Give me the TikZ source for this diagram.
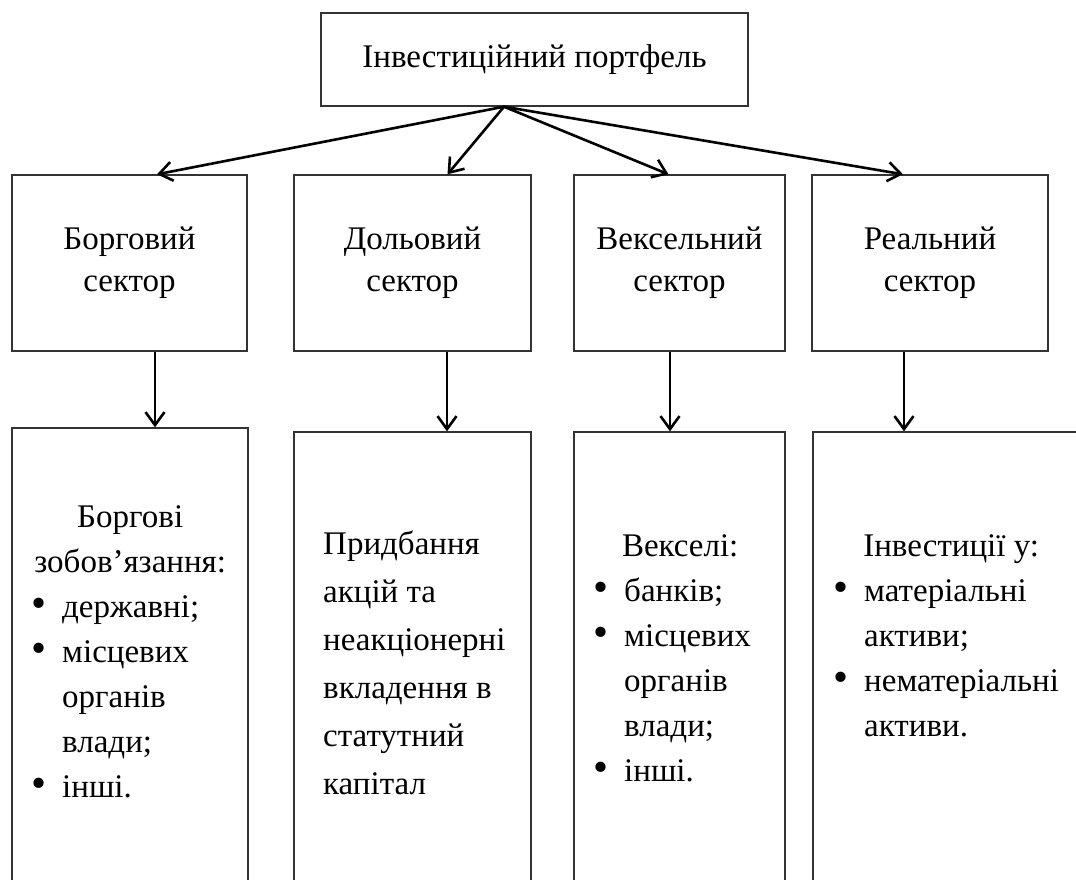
\documentclass[tikz,border=0pt]{standalone}
\usepackage{fontspec}
\setmainfont{Liberation Serif}
\usetikzlibrary{arrows.meta,positioning}

\newcommand{\itm}{\makebox[31pt][l]{\raisebox{-0.5pt}{\scalebox{1.3}{\textbullet}}}}
\newcommand{\ind}{\hspace*{31pt}}

\tikzset{
  box/.style={draw=black!80, line width=1.4pt, inner sep=0pt, font=\fontsize{33}{42}\selectfont, align=center},
  lowbox/.style={draw=black!80, line width=1.4pt, inner sep=0pt},
  arr/.style={-{Straight Barb[length=13pt,width=19pt]}, line width=2.6pt},
  txt/.style={inner sep=0pt, font=\fontsize{33}{45}\selectfont, align=left, anchor=north west}
}

\begin{document}
\begin{tikzpicture}[x=1pt,y=-1pt]
        \useasboundingbox (0,0) rectangle (1076,880);
        \clip (0,0) rectangle (1076,880);
        \node[box, minimum width=427, minimum height=93](port) at (534.5,59.5) {Інвестиційний портфель};
        \coordinate(hub) at ([xshift=-30.5]port.south);
        % sectors
        \node[box, minimum width=235, minimum height=176](borg) at (129.5,263) {Борговий\\сектор};
        \node[box, minimum width=237, minimum height=176](dol) at (412.5,263) {Дольовий\\сектор};
        \node[box, minimum width=211, minimum height=176](veks) at (679.5,263) {Вексельний\\сектор};
        \node[box, minimum width=236, minimum height=176](real) at (930,263) {Реальний\\сектор};
        % lower boxes
        \node[lowbox, minimum width=236, minimum height=600](borglow) at (130,728) {};
        \node[lowbox, minimum width=237, minimum height=600](dollow) at (412.5,732) {};
        \node[lowbox, minimum width=211, minimum height=600](vekslow) at (679.5,732) {};
        \node[lowbox, minimum width=290, minimum height=600](reallow) at (958,732) {};
        \node[txt](borgtxt) at (31,505) {\makebox[198pt][c]{Боргові}\\ \makebox[198pt][c]{зобов’язання:}\\ \itm державні;\\ \itm місцевих\\ \ind органів\\ \ind влади;\\ \itm інші.};
        \node[txt, font=\fontsize{33}{48}\selectfont](doltxt) at (323,531) {Придбання\\ акцій та\\ неакціонерні\\ вкладення в\\ статутний\\ капітал};
        \node[txt](vekstxt) at (593,534) {\makebox[174pt][c]{Векселі:}\\ \itm банків;\\ \itm місцевих\\ \ind органів\\ \ind влади;\\ \itm інші.};
        \node[txt](realtxt) at (833,534) {\makebox[236pt][c]{Інвестиції у:}\\ \itm матеріальні\\ \ind активи;\\ \itm нематеріальні\\ \ind активи.};
        \draw[arr](hub)--([xshift=27.5]borg.north);
        \draw[arr](hub)--([xshift=35]dol.north);
        \draw[arr](hub)--([xshift=-11]veks.north);
        \draw[arr](hub)--([xshift=-27]real.north);
        \draw[arr](borg.south -| 155,0)--(borglow.north -| 155,0);
        \draw[arr](dol.south -| 447,0)--(dollow.north -| 447,0);
        \draw[arr](veks.south -| 670,0)--(vekslow.north -| 670,0);
        \draw[arr](real.south -| 904,0)--(reallow.north -| 904,0);
\end{tikzpicture}
\end{document}
